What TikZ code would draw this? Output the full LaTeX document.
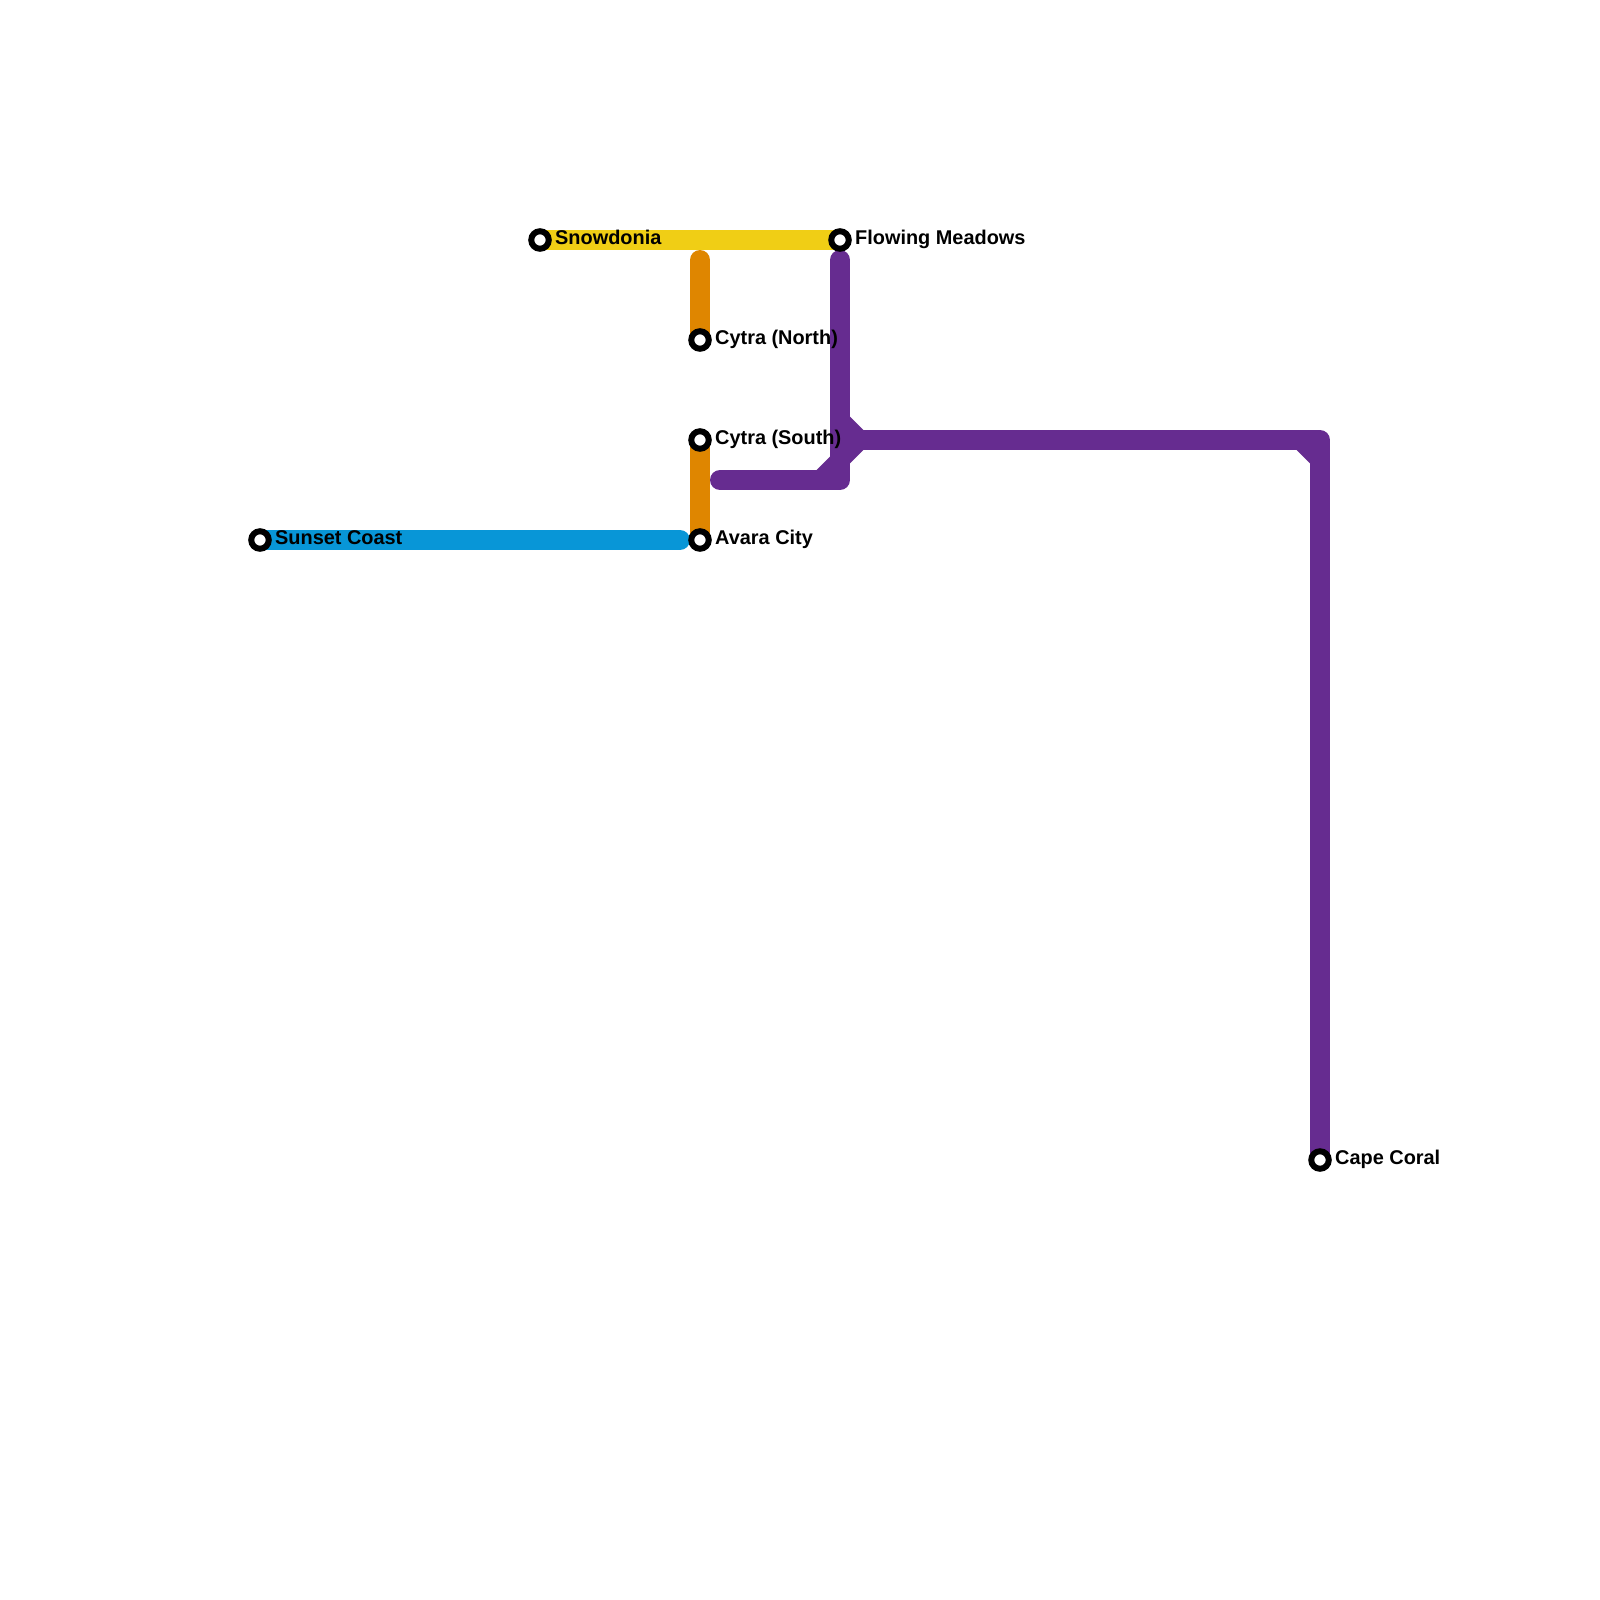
\documentclass[tikz,border=0pt]{standalone}
\usepackage{fontspec}
\setmainfont{Liberation Sans}
\definecolor{lineyellow}{HTML}{F0CE15}
\definecolor{lineorange}{HTML}{DF8600}
\definecolor{lineblue}{HTML}{0896D7}
\definecolor{linepurple}{HTML}{662C90}
\tikzset{
  x=1pt,y=-1pt,
  route/.style={line width=20pt,line cap=round,line join=round},
  stop/.style={circle,draw=black,fill=white,line width=6pt,minimum size=17.5pt,inner sep=0pt},
  stoplabel/.style={font=\bfseries\fontsize{19.9pt}{22pt}\selectfont,anchor=base west,inner sep=0pt,text=black},
  fillet/.style={fill=linepurple,draw=none}
}
\begin{document}
\begin{tikzpicture}
\useasboundingbox (0,0) rectangle (1600,1600);
\fill[white] (0,0) rectangle (1600,1600);
\coordinate (sn) at (540,240);
\coordinate (fm) at (840,240);
\coordinate (cn) at (700,340);
\coordinate (cs) at (700,440);
\coordinate (av) at (700,540);
\coordinate (su) at (260,540);
\coordinate (cc) at (1320,1160);
\coordinate (ot) at (700,260);
\coordinate (be) at (680,540);
\coordinate (pt) at (840,260);
\coordinate (pb) at (840,480);
\coordinate (pl) at (720,480);
\coordinate (pj) at (840,440);
\coordinate (pc) at (1320,440);
\draw[route,lineyellow,line cap=butt] (sn) -- (fm);
\draw[route,lineorange] (ot) -- (cn);
\draw[route,lineorange] (cs) -- (av);
\draw[route,lineblue] (su) -- (be);
\draw[route,linepurple] (pt) -- (pb) -- (pl);
\draw[route,linepurple] (pj) -- (pc) -- (cc);
\fill[fillet] (850,416.7) -- (863.3,430) -- (850,430) -- cycle;
\fill[fillet] (863.3,450) -- (850,463.3) -- (850,450) -- cycle;
\fill[fillet] (830,456.7) -- (816.7,470) -- (830,470) -- cycle;
\fill[fillet] (1296.7,450) -- (1310,463.3) -- (1310,450) -- cycle;
\node[stop] (nsn) at (sn) {};
\node[stop] (nfm) at (fm) {};
\node[stop] (ncn) at (cn) {};
\node[stop] (ncs) at (cs) {};
\node[stop] (nav) at (av) {};
\node[stop] (nsu) at (su) {};
\node[stop] (ncc) at (cc) {};
\node[stoplabel] (lsn) at (555,244.8) {Snowdonia};
\node[stoplabel] (lfm) at (855,244.8) {Flowing Meadows};
\node[stoplabel] (lcn) at (715,344.8) {Cytra (North)};
\node[stoplabel] (lcs) at (715,444.8) {Cytra (South)};
\node[stoplabel] (lav) at (715,544.8) {Avara City};
\node[stoplabel] (lsu) at (275,544.8) {Sunset Coast};
\node[stoplabel] (lcc) at (1335,1164.8) {Cape Coral};
\end{tikzpicture}
\end{document}
